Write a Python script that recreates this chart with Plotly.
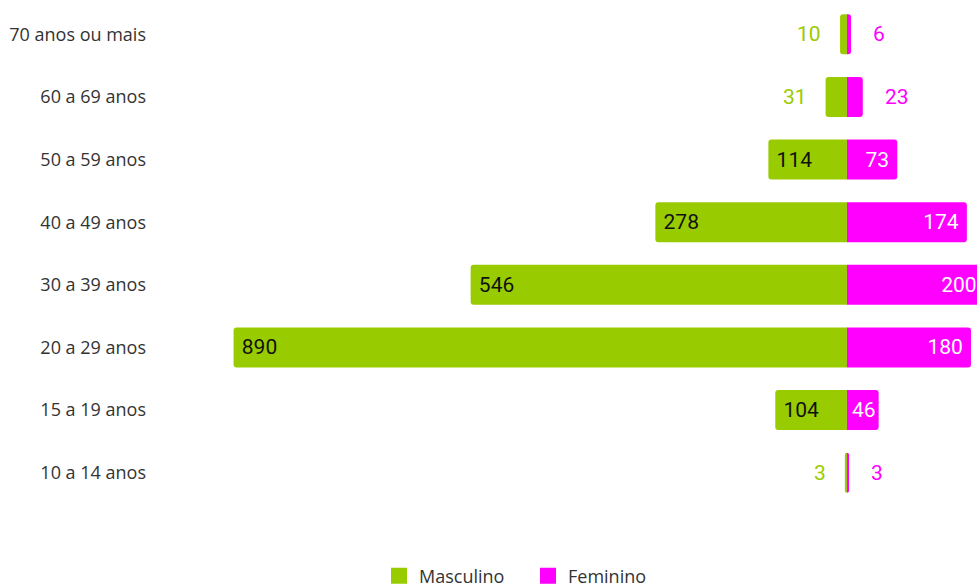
import plotly.graph_objects as go

categories = ["10 a 14 anos", "15 a 19 anos", "20 a 29 anos", "30 a 39 anos",
              "40 a 49 anos", "50 a 59 anos", "60 a 69 anos", "70 anos ou mais"]
masculino = [3, 104, 890, 546, 278, 114, 31, 10]
feminino = [3, 46, 180, 200, 174, 73, 23, 6]

GREEN = "#99cc00"
MAGENTA = "#ff00ff"
INSIDE_MIN = 40
PAD_MIN = 60
NB = "\u00a0"

fig = go.Figure()

m_text = [(NB + str(v) if v >= PAD_MIN else str(v)) if v >= INSIDE_MIN else "" for v in masculino]
f_text = [(str(v) + NB if v >= PAD_MIN else str(v)) if v >= INSIDE_MIN else "" for v in feminino]

fig.add_trace(go.Bar(
    y=categories, x=[-v for v in masculino], orientation="h",
    name="Masculino", marker=dict(color=GREEN, line=dict(width=0)),
    text=m_text, textposition="inside", insidetextanchor="end",
    insidetextfont=dict(family="Roboto", size=21, color="#111111"),
    hoverinfo="skip", showlegend=False, cliponaxis=True,
))
fig.add_trace(go.Bar(
    y=categories, x=feminino, orientation="h",
    name="Feminino", marker=dict(color=MAGENTA, line=dict(width=0), cornerradius=3),
    text=f_text, textposition="inside", insidetextanchor="end",
    insidetextfont=dict(family="Roboto", size=21, color="white"),
    hoverinfo="skip", showlegend=False, cliponaxis=True,
))

# legend proxies
for nm, col in [("Masculino", GREEN), ("Feminino", MAGENTA)]:
    fig.add_trace(go.Scatter(
        x=[None], y=[None], mode="markers", name=nm,
        marker=dict(symbol="square", size=20, color=col),
    ))

# outside labels for small bars
for cat, v in zip(categories, masculino):
    if v < INSIDE_MIN:
        fig.add_annotation(x=-v, y=cat, text=str(v), showarrow=False,
                           xanchor="right", xshift=-17,
                           font=dict(family="Roboto", size=21, color=GREEN))
for cat, v in zip(categories, feminino):
    if v < INSIDE_MIN:
        fig.add_annotation(x=v, y=cat, text=str(v), showarrow=False,
                           xanchor="left", xshift=20,
                           font=dict(family="Roboto", size=21, color=MAGENTA))

fig.update_layout(
    width=977, height=585,
    barmode="relative", bargap=0.36,
    plot_bgcolor="white", paper_bgcolor="white",
    margin=dict(l=155, r=0, t=3, b=81, autoexpand=False),
    xaxis=dict(range=[-1004, 188.7], visible=False, fixedrange=True),
    yaxis=dict(categoryorder="array", categoryarray=categories,
               showgrid=False, zeroline=False, showline=False, ticks="",
               ticklabelstandoff=8,
               tickfont=dict(family="Open Sans", size=18, color="#333333")),
    legend=dict(orientation="h", x=379/977, xanchor="left", xref="container",
                y=1 - 576/585, yref="container", yanchor="middle",
                font=dict(family="Open Sans", size=18, color="#333333"),
                itemsizing="trace", entrywidth=104, borderwidth=0),
    showlegend=True,
)

fig.write_html("out.html", config={"displayModeBar": False})
